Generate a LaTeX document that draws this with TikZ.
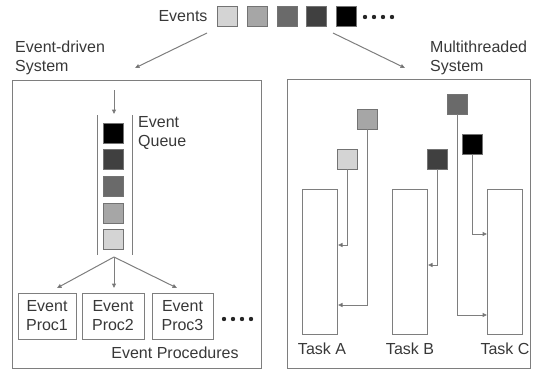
\documentclass[tikz,border=0pt]{standalone}
\usepackage{fontspec}
\setmainfont{Liberation Sans}
\usetikzlibrary{arrows.meta}
\definecolor{cA}{HTML}{D4D4D4}
\definecolor{cB}{HTML}{A6A6A6}
\definecolor{cC}{HTML}{6A6A6A}
\definecolor{cD}{HTML}{404040}
\definecolor{cE}{HTML}{000000}
\definecolor{lc}{HTML}{7E7E7E}
\definecolor{tc}{HTML}{383838}
\begin{document}
\begin{tikzpicture}[x=1pt,y=-1pt,
  ln/.style={draw=lc, line width=1pt},
  arr/.style={ln,-{Triangle[length=4.5pt,width=4pt,fill=black!80]}},
  sq/.style={draw=black!55, line width=0.9pt, minimum size=20pt, inner sep=0pt},
  lbl/.style={font=\fontsize{16}{19}\selectfont, text=tc, inner sep=0pt},
  frame/.style={draw=lc, line width=1pt, inner sep=0pt},
  dot/.style={fill=black!85, draw=none, circle, minimum size=4.4pt, inner sep=0pt},
]
\useasboundingbox (0,0) rectangle (533,370);

% Events row
\node[lbl] (ev) at (183,16) {Events};
\node[sq, fill=cA] (e1) at (227,16) {};
\node[sq, fill=cB] (e2) at (257,16) {};
\node[sq, fill=cC] (e3) at (287,16) {};
\node[sq, fill=cD] (e4) at (316.5,16) {};
\node[sq, fill=cE] (e5) at (346.5,16) {};
\foreach \x in {365,374,383,392} \node[dot] at (\x,17) {};

\coordinate (esl) at (207,33);
\coordinate (esr) at (333,33);
\coordinate (eel) at (135,68);
\coordinate (eer) at (405,68);
\draw[arr] (esl) -- (eel);
\draw[arr] (esr) -- (eer);

% labels
\node[lbl, anchor=west, align=left] (edl) at (15,58) {Event-driven\\System};
\node[lbl, anchor=west, align=left] (mtl) at (430,58) {Multithreaded\\System};

% frames
\node[frame, anchor=north west, minimum width=249pt, minimum height=288pt] (lbox) at (12,80) {};
\node[frame, anchor=north west, minimum width=243pt, minimum height=289pt] (rbox) at (287,79) {};

% queue
\coordinate (qlt) at (97,115); \coordinate (qlb) at (97,255);
\coordinate (qrt) at (132,115); \coordinate (qrb) at (132,255);
\draw[ln] (qlt) -- (qlb);
\draw[ln] (qrt) -- (qrb);
\coordinate (qin) at (114,90); \coordinate (qtop) at (114,114);
\draw[arr] (qin) -- (qtop);
\node[sq, fill=cE] (q1) at (113.5,133) {};
\node[sq, fill=cD] (q2) at (113.5,159) {};
\node[sq, fill=cC] (q3) at (113.5,186) {};
\node[sq, fill=cB] (q4) at (113.5,213) {};
\node[sq, fill=cA] (q5) at (113.5,239.5) {};
\node[lbl, anchor=west, align=left] (eq) at (138,133) {Event\\Queue};

% procedures
\node[frame, lbl, draw=lc, align=center, minimum width=58pt, minimum height=46pt] (p1) at (47,316) {Event\\Proc1};
\node[frame, lbl, draw=lc, align=center, minimum width=62pt, minimum height=46pt] (p2) at (113,316) {Event\\Proc2};
\node[frame, lbl, draw=lc, align=center, minimum width=61pt, minimum height=46pt] (p3) at (182.5,316) {Event\\Proc3};
\foreach \x in {224,233,242,251} \node[dot] at (\x,319) {};
\node[lbl] (epl) at (175,353) {Event Procedures};

\coordinate (qout) at (114,257);
\coordinate (f1) at (57,288);
\coordinate (f2) at (114,288);
\coordinate (f3) at (177,288);
\draw[arr] (qout) -- (f1);
\draw[arr] (qout) -- (f2);
\draw[arr] (qout) -- (f3);

% tasks
\node[frame, anchor=north west, minimum width=35pt, minimum height=145pt] (ta) at (302,189) {};
\node[frame, anchor=north west, minimum width=35pt, minimum height=145pt] (tb) at (392,189) {};
\node[frame, anchor=north west, minimum width=35pt, minimum height=145pt] (tcc) at (487,189) {};
\node[lbl] (tal) at (322,349) {Task A};
\node[lbl] (tbl) at (410,349) {Task B};
\node[lbl] (tcl) at (505,349) {Task C};

% events for tasks
\node[sq, fill=cA] (rl) at (347,159) {};
\node[sq, fill=cB] (rm) at (367,119) {};
\node[sq, fill=cD] (rd) at (437,159) {};
\node[sq, fill=cC] (rg) at (457,104) {};
\node[sq, fill=cE] (rk) at (472,144) {};
\draw[arr] (rl.south) |- (ta.east |- 0,245);
\draw[arr] (rm.south) |- (ta.east |- 0,305);
\draw[arr] (rd.south) |- (tb.east |- 0,265);
\draw[arr] (rg.south) |- (tcc.west |- 0,315);
\draw[arr] (rk.south) |- (tcc.west |- 0,234);
\end{tikzpicture}
\end{document}
